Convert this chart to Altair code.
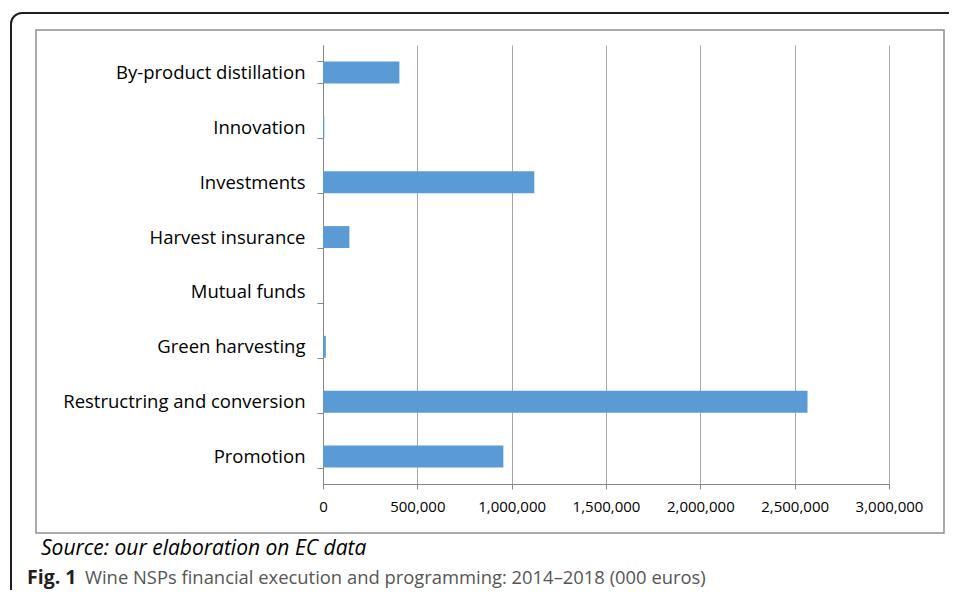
import altair as alt
import pandas as pd

# ---- data ----
categories = [
    "By-product distillation",
    "Innovation",
    "Investments",
    "Harvest insurance",
    "Mutual funds",
    "Green harvesting",
    "Restructring and conversion",
    "Promotion",
]
values = [405000, 7000, 1120000, 140000, 0, 15000, 2568000, 956000]
x_ticks = [0, 500000, 1000000, 1500000, 2000000, 2500000, 3000000]
source_text = ["Source: our elaboration on EC data"]
fig_label = ["Fig. 1"]
fig_text = ["Wine NSPs financial execution and programming: 2014\u20132018 (000 euros)"]

df = pd.DataFrame({"category": categories, "value": values})

W, H = 566, 439
PAD = {"left": 315, "top": 37, "right": 60, "bottom": 106}

bars = alt.Chart(df).mark_bar(color="#5b9bd5").encode(
    y=alt.Y(
        "category:N",
        sort=categories,
        scale=alt.Scale(paddingInner=0.6, paddingOuter=0.3),
        axis=alt.Axis(
            title=None,
            tickBand="extent",
            ticks=True,
            tickSize=6,
            tickColor="#868686",
            domainColor="#868686",
            labelFont="Open Sans",
            labelFontSize=18.5,
            labelColor="#000000",
            labelPadding=12,
            labelLimit=0,
            grid=False,
        ),
    ),
    x=alt.X(
        "value:Q",
        scale=alt.Scale(domain=[0, 3000000], nice=False),
        axis=alt.Axis(
            title=None,
            values=x_ticks,
            format=",d",
            grid=True,
            gridColor="#a6a6a6",
            gridWidth=1,
            tickSize=5,
            tickColor="#868686",
            domainColor="#868686",
            labelFont="Open Sans",
            labelFontSize=15,
            labelColor="#000000",
            labelPadding=10,
            labelOverlap=False,
            labelFlush=False,
        ),
    ),
)

one = pd.DataFrame({"a": [0]})

outer_frame = alt.Chart(one).mark_rect(
    fillOpacity=0, stroke="#1e1e1e", strokeWidth=2, cornerRadius=11
).encode(x=alt.value(-312), x2=alt.value(680), y=alt.value(-32), y2=alt.value(560))

inner_box = alt.Chart(one).mark_rect(
    fillOpacity=0, stroke="#8f8f8f", strokeWidth=1.5
).encode(x=alt.value(-287), x2=alt.value(621), y=alt.value(-15), y2=alt.value(488))

src = alt.Chart(pd.DataFrame({"t": source_text})).mark_text(
    align="left", baseline="alphabetic", font="Open Sans", fontStyle="italic",
    fontSize=21, color="#000000"
).encode(x=alt.value(-282), y=alt.value(510), text="t:N")

figl = alt.Chart(pd.DataFrame({"t": fig_label})).mark_text(
    align="left", baseline="alphabetic", font="Open Sans", fontWeight="bold",
    fontSize=19.5, color="#231f20"
).encode(x=alt.value(-296), y=alt.value(538.5), text="t:N")

figt = alt.Chart(pd.DataFrame({"t": fig_text})).mark_text(
    align="left", baseline="alphabetic", font="Open Sans",
    fontSize=18.4, color="#555555"
).encode(x=alt.value(-238), y=alt.value(538.5), text="t:N")

chart = alt.layer(outer_frame, inner_box, bars, src, figl, figt).properties(
    width=W,
    height=H,
    padding=PAD,
    autosize=alt.AutoSizeParams(type="none"),
).configure_view(stroke=None)

chart.save("out.html", embed_options={"renderer": "svg", "actions": False})
